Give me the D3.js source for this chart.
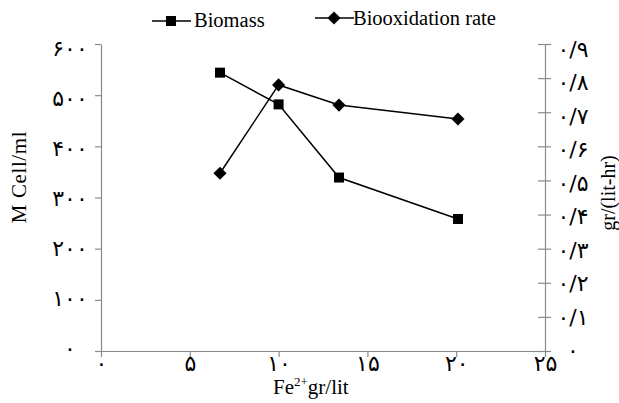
<!DOCTYPE html>
<html>
<head>
<meta charset="utf-8">
<script src="https://cdn.jsdelivr.net/npm/d3@7"></script>
<style>
  body { margin: 0; background: #fff; }
</style>
</head>
<body>
<svg id="chart" width="619" height="403"></svg>
<script>
// Fe2+ concentration (gr/lit) for each sample
const feConc    = [6.7, 10, 13.4, 20.1]
const biomass   = [544, 482, 339, 258]         // M Cell/ml
const bioxRate  = [0.521, 0.78, 0.721, 0.68]   // gr/(lit-hr)

const xTicks    = [0, 5, 10, 15, 20, 25]
const leftTicks = [0, 100, 200, 300, 400, 500, 600]
const rightTicks = [0, 0.1, 0.2, 0.3, 0.4, 0.5, 0.6, 0.7, 0.8, 0.9]

const seriesNames = ["Biomass", "Biooxidation rate"]

const FA = "۰۱۲۳۴۵۶۷۸۹"
const toFa = s => String(s).replace(/[0-9]/g, d => FA[+d])
const fmtLeft  = d => toFa(d)
const fmtRight = d => d === 0 ? toFa(0) : toFa("0/" + Math.round(d * 10))

const SERIF = "'Liberation Serif', 'Times New Roman', serif"
const DIGITS = "'DejaVu Sans', sans-serif"

const svg = d3.select("#chart")
const axisColor = "#8a8a8a"

const x  = d3.scaleLinear().domain([0, 25]).range([101, 545])
const yL = d3.scaleLinear().domain([0, 600]).range([351, 44])
const yR = d3.scaleLinear().domain([0, 0.9]).range([351, 44])
// tick labels sit on a slightly tighter spacing than the ticks
const yLlab = d3.scaleLinear().domain([0, 600]).range([350, 50])
const yRlab = d3.scaleLinear().domain([0, 0.9]).range([352, 51])

function styleAxis(g) {
  g.attr("font-family", DIGITS)
  g.select(".domain").attr("stroke", axisColor).attr("stroke-width", 1.2)
  g.selectAll(".tick line").attr("stroke", axisColor).attr("stroke-width", 1.2)
  g.selectAll(".tick text").attr("font-size", 22).attr("fill", "#000")
    .style("font-family", DIGITS)
}

// ── x axis ─────────────────────────
const gx = svg.append("g")
  .attr("transform", `translate(0,${yL(0)})`)
  .call(d3.axisBottom(x).tickValues(xTicks).tickSize(6).tickSizeOuter(0).tickFormat(toFa))
styleAxis(gx)
gx.selectAll(".tick text").attr("y", 20).attr("dy", 0)

// ── left axis ──────────────────────
const gl = svg.append("g")
  .attr("transform", `translate(${x(0)},0)`)
  .call(d3.axisLeft(yL).tickValues(leftTicks).tickSize(6).tickSizeOuter(0).tickFormat(fmtLeft))
styleAxis(gl)
gl.selectAll(".tick text")
  .attr("text-anchor", "middle").attr("x", -31)
  .attr("dy", "0.25em")
  .attr("y", d => yLlab(d) - yL(d))

// ── right axis ─────────────────────
const gr = svg.append("g")
  .attr("transform", `translate(${x(25)},0)`)
  .call(d3.axisRight(yR).tickValues(rightTicks).tickSize(6).tickSizeOuter(0).tickFormat(fmtRight))
styleAxis(gr)
gr.selectAll(".tick line").attr("x1", -7).attr("x2", 6)
gr.selectAll(".tick text")
  .attr("text-anchor", "middle").attr("x", 28)
  .attr("dy", "0.25em")
  .attr("y", d => yRlab(d) - yR(d))

// ── series ─────────────────────────
const bioData = feConc.map((f, i) => [f, biomass[i]])
const rateData = feConc.map((f, i) => [f, bioxRate[i]])

const lineL = d3.line().x(d => x(d[0])).y(d => yL(d[1]))
const lineR = d3.line().x(d => x(d[0])).y(d => yR(d[1]))

svg.append("path").datum(bioData).attr("d", lineL)
  .attr("fill", "none").attr("stroke", "#000").attr("stroke-width", 1.5)
svg.append("path").datum(rateData).attr("d", lineR)
  .attr("fill", "none").attr("stroke", "#000").attr("stroke-width", 1.5)

const squareSym  = d3.symbol().type(d3.symbolSquare).size(100)
const diamondSym = d3.symbol().type(d3.symbolDiamond2).size(110)

svg.selectAll("path.sq").data(bioData).join("path").attr("class", "sq")
  .attr("d", squareSym)
  .attr("transform", d => `translate(${x(d[0])},${yL(d[1])})`)
  .attr("fill", "#000")

svg.selectAll("path.dm").data(rateData).join("path").attr("class", "dm")
  .attr("d", diamondSym)
  .attr("transform", d => `translate(${x(d[0])},${yR(d[1])})`)
  .attr("fill", "#000")

// ── legend ─────────────────────────
const legend = [
  { name: seriesNames[0], sym: squareSym,  x0: 152, y: 21, tx: 194, ty: 27 },
  { name: seriesNames[1], sym: diamondSym, x0: 315, y: 18, tx: 353, ty: 25 }
]
const lg = svg.selectAll("g.leg").data(legend).join("g").attr("class", "leg")
lg.append("line")
  .attr("x1", d => d.x0).attr("x2", d => d.x0 + 39)
  .attr("y1", d => d.y).attr("y2", d => d.y)
  .attr("stroke", "#000").attr("stroke-width", 1.5)
lg.append("path")
  .attr("d", d => d.sym())
  .attr("transform", d => `translate(${d.x0 + 19},${d.y})`)
  .attr("fill", "#000")
lg.append("text")
  .attr("x", d => d.tx).attr("y", d => d.ty)
  .attr("font-size", 20.5)
  .style("font-family", SERIF)
  .text(d => d.name)

// ── axis titles ────────────────────
const xt = svg.append("text").attr("x", 273).attr("y", 394)
  .attr("font-size", 21).style("font-family", SERIF)
xt.append("tspan").text("Fe")
xt.append("tspan").attr("font-size", 13).attr("dy", -8).text("2+")
xt.append("tspan").attr("dy", 8).text("gr/lit")

svg.append("text")
  .attr("transform", "translate(26,177) rotate(-90)")
  .attr("text-anchor", "middle").attr("font-size", 21)
  .attr("letter-spacing", 0.6)
  .style("font-family", SERIF)
  .text("M Cell/ml")

svg.append("text")
  .attr("transform", "translate(615,193) rotate(-90)")
  .attr("text-anchor", "middle").attr("font-size", 20)
  .style("font-family", SERIF)
  .text("gr/(lit-hr)")
</script>
</body>
</html>
